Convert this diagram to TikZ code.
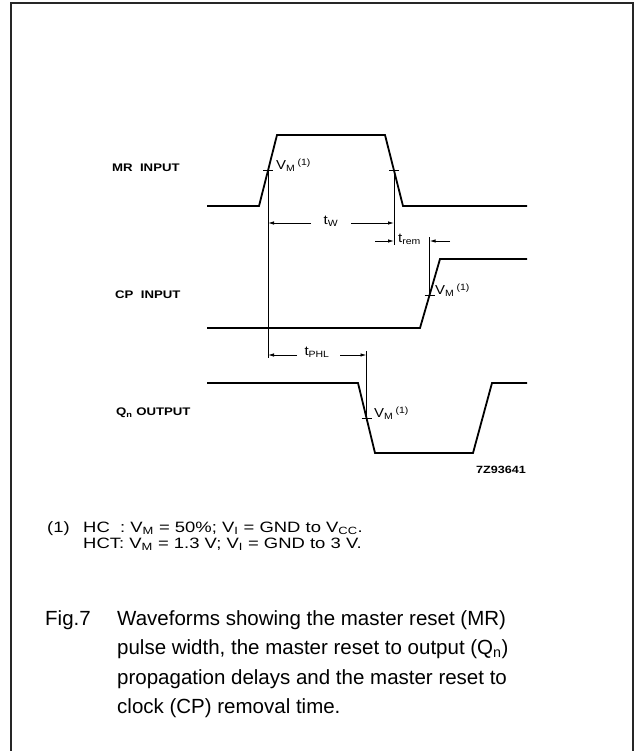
\documentclass[tikz,border=0pt]{standalone}
\usepackage{fontspec}
\setmainfont{Liberation Sans}
\newfontfamily\sigfont[FakeStretch=1.2]{Liberation Sans}
\newfontfamily\notefont[FakeStretch=1.23]{Liberation Sans}
\newfontfamily\vmfont[FakeStretch=1.15]{Liberation Sans}
\usetikzlibrary{arrows.meta}
\begin{document}
\begin{tikzpicture}[x=1pt,y=-1pt,
  wave/.style={line width=1.8pt, line join=miter},
  refline/.style={line width=0.9pt},
  dim/.style={line width=0.9pt, -{Latex[length=6pt,width=3.5pt]}},
  sig/.style={font=\sigfont\fontsize{11}{12}\selectfont\bfseries, anchor=west, inner sep=0},
  vm/.style={font=\vmfont\fontsize{13}{14}\selectfont, anchor=west, inner sep=0},
  tl/.style={font=\vmfont\fontsize{13}{14}\selectfont, inner sep=0},
  note/.style={font=\notefont\fontsize{15}{16}\selectfont, anchor=base west, inner sep=0},
  captext/.style={font=\fontsize{20.5}{29}\selectfont, anchor=base west, inner sep=0},
]
\useasboundingbox (0,0) rectangle (635,751);
\draw[line width=1.3pt, black!85] (11,780) -- (11,3) -- (633,3) -- (633,780);

% signal labels
\node[sig] (mrl) at (112,168) {MR\ \ INPUT};
\node[sig] (cpl) at (115,295) {CP\ \ INPUT};
\node[sig] (ql)  at (116,413) {Q\textsubscript{n}\ OUTPUT};

% waveforms
\draw[wave] (207,206) -- (259,206) -- (277,135) -- (385,135) -- (403,206) -- (527,206);
\draw[wave] (207,328) -- (420,328) -- (440,259) -- (527,259);
\draw[wave] (207,383) -- (358,383) -- (375,453) -- (473,453) -- (492,383) -- (527,383);

% measurement points
\coordinate (m1) at (268,170);
\coordinate (m2) at (394,170);
\coordinate (c1) at (429.6,295);
\coordinate (q1) at (366.5,418);
\coordinate (m1b) at (268,358);
\coordinate (m2b) at (394,245);
\coordinate (c1t) at (429.6,237);
\coordinate (q1t) at (366.5,351);

\draw[refline] (m1) -- (m1b);
\draw[refline] (m2) -- (m2b);
\draw[refline] (c1t) -- (c1);
\draw[refline] (q1t) -- (q1);
\foreach \p in {m1,m2,c1,q1} \draw[refline] ([xshift=-5pt]\p) -- ([xshift=5pt]\p);

\node[vm] (v1) at (276,165) {V\textsubscript{M}\,\textsuperscript{(1)}};
\node[vm] (v2) at (435,290) {V\textsubscript{M}\,\textsuperscript{(1)}};
\node[vm] (v3) at (374,413) {V\textsubscript{M}\,\textsuperscript{(1)}};

% t_W
\node[tl] (tw) at (331,221) {t\textsubscript{W}};
\coordinate (twl) at (268,223);
\coordinate (twr) at (394,223);
\draw[dim] (311,223) -- (twl);
\draw[dim] (351,223) -- (twr);

% t_rem
\node[tl, anchor=west] (tr) at (398,239) {t\textsubscript{rem}};
\coordinate (trl) at (394,241);
\coordinate (trr) at (429.6,241);
\coordinate (trla) at (375,241);
\coordinate (trra) at (450,241);
\draw[dim] (trla) -- (trl);
\draw[dim] (trra) -- (trr);

% t_PHL
\node[tl] (tp) at (317,352) {t\textsubscript{PHL}};
\coordinate (tpl) at (268,355);
\coordinate (tpr) at (366.5,355);
\draw[dim] (297,355) -- (tpl);
\draw[dim] (340,355) -- (tpr);

\node[font=\sigfont\fontsize{10.5}{11}\selectfont\bfseries, inner sep=0] (code) at (501,470) {7Z93641};

% footnote
\node[note] (n1) at (47,532) {(1)};
\node[note] (n2) at (83,532) {HC\ \ : V\textsubscript{M} = 50\%; V\textsubscript{I} = GND to V\textsubscript{CC}.};
\node[note] (n3) at (83,548) {HCT: V\textsubscript{M} = 1.3 V; V\textsubscript{I} = GND to 3 V.};

% caption
\node[captext] (f1) at (45,625) {Fig.7};
\node[captext] (f2) at (117,625) {Waveforms showing the master reset (MR)};
\node[captext] (f3) at (117,654.5) {pulse width, the master reset to output (Q\textsubscript{n})};
\node[captext] (f4) at (117,684) {propagation delays and the master reset to};
\node[captext] (f5) at (117,713.5) {clock (CP) removal time.};
\end{tikzpicture}
\end{document}
